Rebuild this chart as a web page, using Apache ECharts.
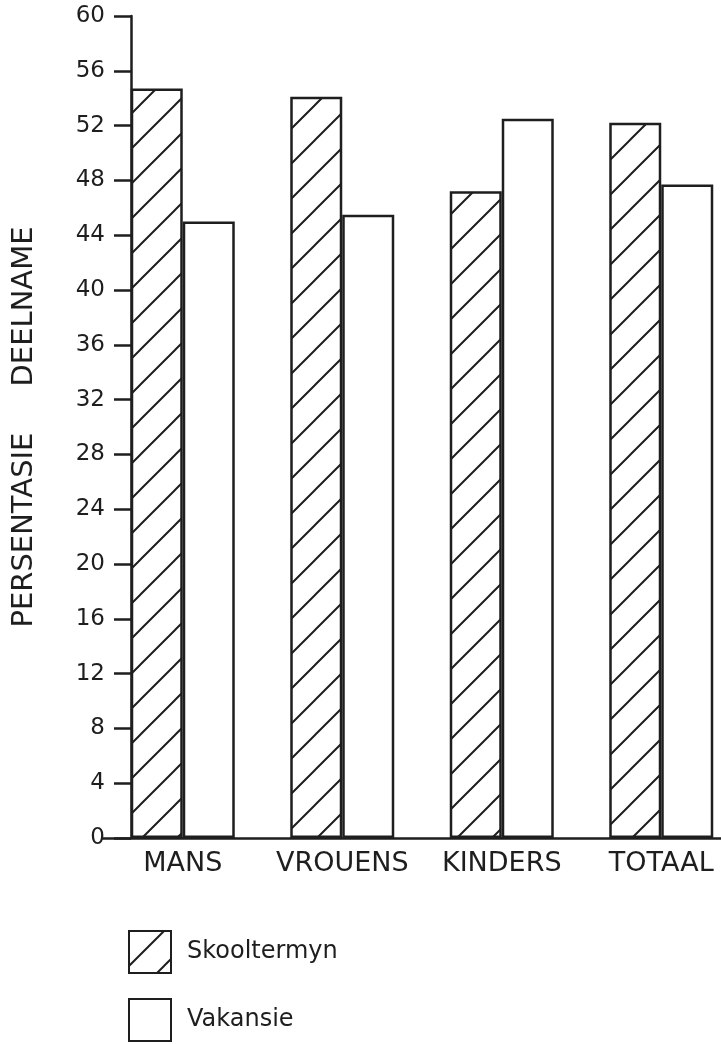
<!DOCTYPE html>
<html>
<head>
<meta charset="utf-8">
<script src="https://cdn.jsdelivr.net/npm/echarts@6/dist/echarts.min.js"></script>
<style>
html,body{margin:0;padding:0;background:#fff;}
#chart{width:721px;height:1044px;}
</style>
</head>
<body>
<div id="chart"></div>
<script>
var categories = ['MANS', 'VROUENS', 'KINDERS', 'TOTAAL'];
var seriesNames = ['Skooltermyn', 'Vakansie'];
var skooltermyn = [54.7, 54.1, 47.2, 52.2];
var vakansie = [45.0, 45.5, 52.5, 47.7];
var yTicks = [0, 60, 4];
var yAxisTitle = 'PERSENTASIE     DEELNAME';

var ink = '#1e1e1e';

function hatchPattern() {
  var s = 35;
  var c = document.createElement('canvas');
  c.width = s; c.height = s;
  var g = c.getContext('2d');
  g.fillStyle = '#ffffff';
  g.fillRect(0, 0, s, s);
  g.strokeStyle = ink;
  g.lineWidth = 2;
  g.lineCap = 'square';
  g.beginPath();
  g.moveTo(-2, s + 2); g.lineTo(s + 2, -2);
  g.moveTo(-s, s); g.lineTo(s, -s);
  g.moveTo(0, 2 * s); g.lineTo(2 * s, 0);
  g.stroke();
  return { image: c, repeat: 'repeat' };
}

var chart = echarts.init(document.getElementById('chart'), null, { renderer: 'canvas' });
var font = 'DejaVu Sans';

chart.setOption({
  backgroundColor: '#ffffff',
  animation: false,
  grid: { left: 103, width: 638, top: 16, height: 822, containLabel: false, outerBoundsMode: 'none' },
  legend: {
    orient: 'vertical',
    left: 128,
    top: 930,
    padding: 0,
    itemWidth: 42,
    itemHeight: 42,
    itemGap: 24,
    icon: 'rect',
    data: seriesNames,
    textStyle: { fontFamily: font, fontSize: 24, color: ink, padding: [0, 0, 0, 11] }
  },
  xAxis: {
    type: 'category',
    data: categories,
    boundaryGap: true,
    axisLine: { show: true, lineStyle: { color: ink, width: 2.5 } },
    axisTick: { show: false },
    axisLabel: { interval: 0, fontFamily: font, fontSize: 27, color: ink, margin: 12 },
    splitLine: { show: false }
  },
  yAxis: {
    type: 'value',
    min: yTicks[0],
    max: yTicks[1],
    interval: yTicks[2],
    offset: -28,
    name: yAxisTitle,
    nameLocation: 'middle',
    nameGap: 92,
    nameTextStyle: { fontFamily: font, fontSize: 29, color: ink },
    axisLine: { show: true, lineStyle: { color: ink, width: 2.5 } },
    axisTick: { show: true, length: 17, lineStyle: { color: ink, width: 2.5 } },
    axisLabel: { fontFamily: font, fontSize: 23, color: ink, margin: 26 },
    splitLine: { show: false }
  },
  series: [
    {
      name: seriesNames[0],
      type: 'bar',
      data: skooltermyn,
      barWidth: 52,
      barGap: '0%',
      itemStyle: { color: hatchPattern(), borderColor: ink, borderWidth: 2.5 }
    },
    {
      name: seriesNames[1],
      type: 'bar',
      data: vakansie,
      barWidth: 52,
      barGap: '0%',
      itemStyle: { color: '#ffffff', borderColor: ink, borderWidth: 2.5 }
    }
  ]
});
</script>
</body>
</html>
